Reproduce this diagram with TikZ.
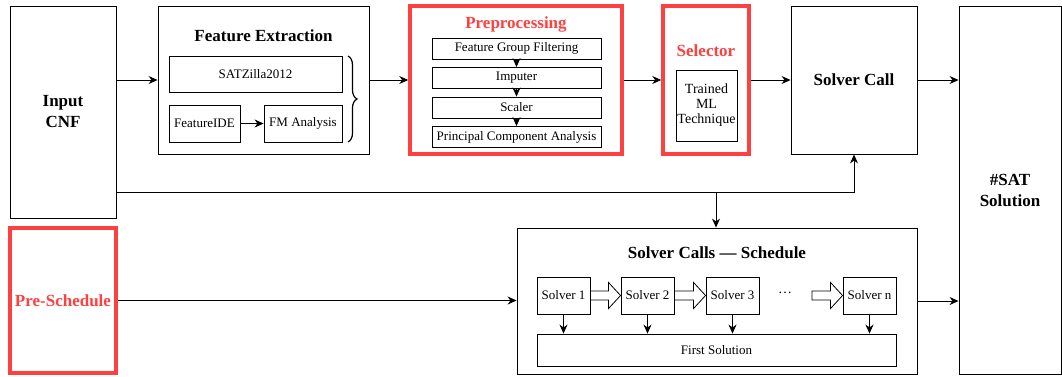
\documentclass[tikz,border=0pt]{standalone}
\usepackage{fontspec}
\setmainfont{Liberation Serif}
\usetikzlibrary{calc, positioning, arrows.meta, decorations.pathreplacing}

\definecolor{vermell}{RGB}{255,64,64}

% fletxa buida entre dos punts
\newcommand{\fletxa}[2]{%
  \draw[line width=0.8pt] ($(#1)+(0,-4.5)$) -- ($(#2)+(-12,-4.5)$) -- ($(#2)+(-12,-13)$)
    -- (#2) -- ($(#2)+(-12,13)$) -- ($(#2)+(-12,4.5)$) -- ($(#1)+(0,4.5)$) -- cycle;}

\tikzset{
  caixa/.style={draw, line width=0.9pt, inner sep=0pt, align=center,
    font=\fontsize{13}{15}\selectfont},
  gran/.style={caixa, font=\fontsize{17}{21}\selectfont\bfseries},
  marc/.style={draw=vermell, line width=3.5pt},
  titol/.style={font=\fontsize{17}{21}\selectfont\bfseries},
  fl/.style={-{Stealth[length=9pt,width=8pt]}, line width=0.9pt}
}

\begin{document}
\begin{tikzpicture}[x=1pt, y=-1pt]
    \useasboundingbox (0,0) rectangle (1062,376);

    % Entrada
    \node[gran, minimum width=106pt, minimum height=212pt] (cnf) at (63,112) {Input\\CNF};
    \node[gran, marc, text=vermell, minimum width=106pt, minimum height=145pt] (ps) at (63,300.5) {Pre-Schedule};

    % Extraccio de caracteristiques
    \node[caixa, minimum width=211pt, minimum height=148pt] (fe) at (263.5,80) {};
    \node[titol] at (263.5,36) {Feature Extraction};
    \node[caixa, minimum width=173pt, minimum height=36pt] (satz) at (255.5,74) {SATZilla2012};
    \node[caixa, minimum width=71pt, minimum height=37pt] (fide) at (204.5,123.5) {FeatureIDE};
    \node[caixa, minimum width=78pt, minimum height=37pt] (fma) at (303,123.5) {FM Analysis};
    \draw[fl] (fide) -- (fma);
    \draw[line width=1.2pt, decorate, decoration={brace, amplitude=9pt}] (348,56) -- (348,142);

    % Preprocessament
    \node[caixa, marc, minimum width=212pt, minimum height=148pt] (pre) at (516,80) {};
    \node[titol, text=vermell] at (516,24) {Preprocessing};
    \node[caixa, minimum width=169pt, minimum height=21pt] (p1) at (516.5,48.5) {Feature Group Filtering};
    \node[caixa, minimum width=169pt, minimum height=21pt] (p2) at (516.5,78) {Imputer};
    \node[caixa, minimum width=169pt, minimum height=21pt] (p3) at (516.5,107.5) {Scaler};
    \node[caixa, minimum width=169pt, minimum height=21pt] (p4) at (516.5,137) {Principal Component Analysis};
    \foreach \a/\b in {p1/p2, p2/p3, p3/p4}
        \draw[fl] (\a) -- (\b);

    % Selector
    \node[caixa, marc, minimum width=86pt, minimum height=148pt] (sel) at (706,80) {};
    \node[titol, text=vermell] at (706,51) {Selector};
    \node[caixa, minimum width=61pt, minimum height=71pt, font=\fontsize{14}{15}\selectfont] (ml) at (706.5,105.5) {Trained\\ML\\Technique};

    % Crida al solver i sortida
    \node[gran, minimum width=126pt, minimum height=148pt] (call) at (854,80) {Solver Call};
    \node[gran, minimum width=102pt, minimum height=368pt] (sat) at (1010,190) {\#SAT\\Solution};

    % Planificacio
    \node[caixa, minimum width=400pt, minimum height=146pt] (sched) at (717,301) {};
    \node[titol] at (717,253) {Solver Calls --- Schedule};
    \node[caixa, minimum width=53pt, minimum height=37pt] (s1) at (563.5,295.5) {Solver 1};
    \node[caixa, minimum width=53pt, minimum height=37pt] (s2) at (647.5,295.5) {Solver 2};
    \node[caixa, minimum width=53pt, minimum height=37pt] (s3) at (732.5,295.5) {Solver 3};
    \node[caixa, minimum width=53pt, minimum height=37pt] (sn) at (869.5,295.5) {Solver n};
    \node[font=\fontsize{14}{15}\selectfont] (dots) at (785,293) {\dots};
    \coordinate (gap) at (812,295.5);
    \node[caixa, minimum width=359pt, minimum height=32pt] (first) at (716.5,350) {First Solution};
    \fletxa{s1.east}{s2.west}
    \fletxa{s2.east}{s3.west}
    \fletxa{gap}{sn.west}
    \foreach \s in {s1, s2, s3, sn}
        \draw[fl] (\s.south) -- (\s.south |- first.north);

    % Connexions
    \draw[fl] (cnf.east |- fe.west) -- (fe.west);
    \draw[fl] (fe.east) -- (pre.west);
    \draw[fl] (pre.east) -- (sel.west);
    \draw[fl] (sel.east) -- (call.west);
    \draw[fl] (call.east) -- (sat.west |- call.east);
    \coordinate (tap) at (716,192);
    \draw[fl] (cnf.east |- tap) -| (call.south);
    \draw[fl] (tap) -- (tap |- sched.north);
    \draw[fl] (ps.east) -- (ps.east -| sched.west);
    \draw[fl] (sched.east) -- (sat.west |- sched.east);
\end{tikzpicture}
\end{document}
